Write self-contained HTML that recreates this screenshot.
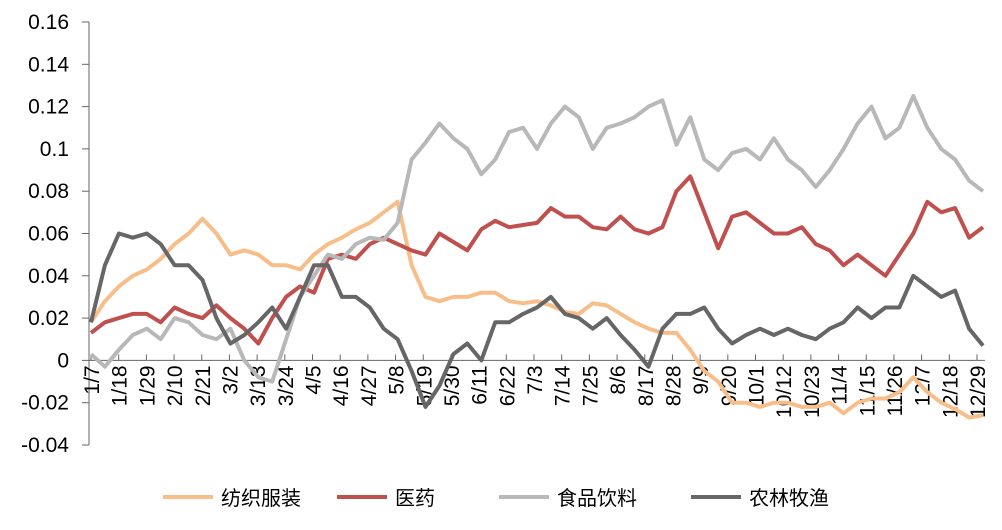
<!DOCTYPE html>
<html><head><meta charset="utf-8"><style>
body{margin:0;background:#fff;font-family:"Liberation Sans","Noto Sans CJK SC",sans-serif}
</style></head><body>
<svg id="c" width="1002" height="525" xmlns="http://www.w3.org/2000/svg"></svg>
<script>
const xLabels=["1/7","1/18","1/29","2/10","2/21","3/2","3/13","3/24","4/5","4/16","4/27","5/8","5/19","5/30","6/11","6/22","7/3","7/14","7/25","8/6","8/17","8/28","9/9","9/20","10/1","10/12","10/23","11/4","11/15","11/26","12/7","12/18","12/29"];
const yTicks=[-0.04,-0.02,0,0.02,0.04,0.06,0.08,0.1,0.12,0.14,0.16];
const yTickLabels=["-0.04","-0.02","0","0.02","0.04","0.06","0.08","0.1","0.12","0.14","0.16"];
const seriesNames=["纺织服装","医药","食品饮料","农林牧渔"];
const textile=[0.018,0.028,0.035,0.04,0.043,0.048,0.055,0.06,0.067,0.06,0.05,0.052,0.05,0.045,0.045,0.043,0.05,0.055,0.058,0.062,0.065,0.07,0.075,0.045,0.03,0.028,0.03,0.03,0.032,0.032,0.028,0.027,0.028,0.026,0.023,0.022,0.027,0.026,0.022,0.018,0.015,0.013,0.013,0.005,-0.005,-0.01,-0.02,-0.02,-0.022,-0.02,-0.02,-0.022,-0.022,-0.02,-0.025,-0.02,-0.018,-0.018,-0.015,-0.008,-0.015,-0.02,-0.023,-0.027,-0.026];
const pharma=[0.013,0.018,0.02,0.022,0.022,0.018,0.025,0.022,0.02,0.026,0.02,0.015,0.008,0.02,0.03,0.035,0.032,0.048,0.05,0.048,0.055,0.058,0.055,0.052,0.05,0.06,0.056,0.052,0.062,0.066,0.063,0.064,0.065,0.072,0.068,0.068,0.063,0.062,0.068,0.062,0.06,0.063,0.08,0.087,0.07,0.053,0.068,0.07,0.065,0.06,0.06,0.063,0.055,0.052,0.045,0.05,0.045,0.04,0.05,0.06,0.075,0.07,0.072,0.058,0.063];
const food=[0.003,-0.003,0.005,0.012,0.015,0.01,0.02,0.018,0.012,0.01,0.015,0.0,-0.008,-0.01,0.01,0.03,0.04,0.05,0.048,0.055,0.058,0.057,0.065,0.095,0.103,0.112,0.105,0.1,0.088,0.095,0.108,0.11,0.1,0.112,0.12,0.115,0.1,0.11,0.112,0.115,0.12,0.123,0.102,0.115,0.095,0.09,0.098,0.1,0.095,0.105,0.095,0.09,0.082,0.09,0.1,0.112,0.12,0.105,0.11,0.125,0.11,0.1,0.095,0.085,0.08];
const agri=[0.018,0.045,0.06,0.058,0.06,0.055,0.045,0.045,0.038,0.02,0.008,0.012,0.018,0.025,0.015,0.03,0.045,0.045,0.03,0.03,0.025,0.015,0.01,-0.005,-0.022,-0.012,0.003,0.008,0.0,0.018,0.018,0.022,0.025,0.03,0.022,0.02,0.015,0.02,0.012,0.005,-0.003,0.015,0.022,0.022,0.025,0.015,0.008,0.012,0.015,0.012,0.015,0.012,0.01,0.015,0.018,0.025,0.02,0.025,0.025,0.04,0.035,0.03,0.033,0.015,0.007];
const colors=["#F8BE8A","#C0504D","#B8B8B8","#666666"];
const NS="http://www.w3.org/2000/svg";
const svg=document.getElementById('c');
const X0=89,X1=977,Y0=22,Y1=445;
const yS=v=>Y0+(0.16-v)/0.2*(Y1-Y0);
const xL=i=>91+i*(X1-91)/(xLabels.length-1);
function el(t,a){const e=document.createElementNS(NS,t);for(const k in a)e.setAttribute(k,a[k]);svg.appendChild(e);return e;}
let ax=el('line',{x1:X0,y1:Y0,x2:X0,y2:Y1,stroke:'#666','stroke-width':1});


yTicks.forEach((v,i)=>{
  const t=el('line',{x1:X0-7,x2:X0,y1:yS(v),y2:yS(v),stroke:'#666'});
  
  
  const tx=el('text',{x:X0-20,y:yS(v)+7,'text-anchor':'end','font-size':21,fill:'#000'});
  tx.textContent=yTickLabels[i];
  
  
});
const zy=yS(0);
let xa=el('line',{x1:X0,y1:zy,x2:985,y2:zy,stroke:'#666','stroke-width':1});


xLabels.forEach((l,i)=>{
  const x=xL(i);
  const t=el('line',{x1:x,x2:x,y1:zy-6,y2:zy,stroke:'#666'});
  
  
  const tx=el('text',{x:0,y:0,'text-anchor':'end','font-size':21,fill:'#000',transform:`translate(${x+8},${zy+5}) rotate(-90)`});
  tx.textContent=l;
  
  
});
const all=[textile,pharma,food,agri];
all.forEach((s,si)=>{
  const n=s.length;
  const pts=s.map((v,i)=>(91+i*(983-91)/(n-1)).toFixed(1)+','+yS(v).toFixed(1)).join(' ');
  const p=el('polyline',{points:pts,fill:'none',stroke:colors[si],'stroke-width':4,'stroke-linejoin':'round'});
  
  
});
const lx=[163,337,499,691];
seriesNames.forEach((nm,i)=>{
  const l=el('line',{x1:lx[i],x2:lx[i]+50,y1:497,y2:497,stroke:colors[i],'stroke-width':4});
  
  
  const t=el('text',{x:lx[i]+58,y:505,'font-size':20,fill:'#000'});
  t.textContent=nm;
  
  
});
</script>
</body></html>
